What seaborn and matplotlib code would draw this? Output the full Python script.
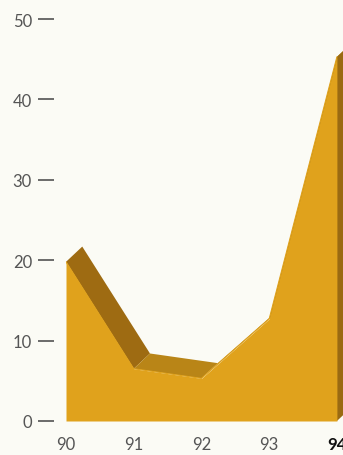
import matplotlib
matplotlib.use('Agg')
from matplotlib import pyplot as plt
import pandas as pd
import seaborn as sns

years = [90, 91, 92, 93, 94]
values = [19.8, 6.5, 5.3, 12.7, 45.3]
year_labels = ['90', '91', '92', '93', '94']
y_ticks = [0, 10, 20, 30, 40, 50]

df = pd.DataFrame({'year': years, 'value': values})

# depth of the fake 3d extrusion (data units)
dx, dy = 0.24, 1.9

front = '#e0a21c'
top_dark = '#9e6b12'
top_mid = '#b98517'
side = '#9a6a12'
bg = '#fbfbf5'

sns.set_theme(style='white')
plt.rcParams['font.family'] = ['Lato', 'DejaVu Sans']

fig = plt.figure(figsize=(3.43, 4.56), dpi=100, facecolor=bg)
ax = fig.add_axes([66 / 343, 34 / 456, 1 - 66 / 343, 1 - 34 / 456])
ax.set_facecolor(bg)

# top faces of the extrusion, one quad per segment
for i in range(len(df) - 1):
    x0, x1 = df['year'][i], df['year'][i + 1]
    y0, y1 = df['value'][i], df['value'][i + 1]
    col = top_dark if y0 - y1 > 5 else top_mid
    ax.fill([x0, x1, x1 + dx, x0 + dx], [y0, y1, y1 + dy, y0 + dy],
            color=col, lw=0, zorder=1)

# side face at the last year
xl, yl = df['year'].iloc[-1], df['value'].iloc[-1]
ax.fill([xl, xl + dx, xl + dx, xl], [0, dy, yl + dy, yl], color=side, lw=0, zorder=1)

# front face
ax.fill_between(df['year'], df['value'], 0, color=front, lw=0, zorder=2)
sns.lineplot(data=df, x='year', y='value', color=front, lw=0.8, ax=ax, zorder=3)

ax.set_xlim(90, 94.09)
ax.set_ylim(0, 52.5)
ax.set_xlabel('')
ax.set_ylabel('')
for s in ax.spines.values():
    s.set_visible(False)
ax.spines['left'].set_position(('outward', 9))

ax.set_yticks(y_ticks)
ax.set_yticklabels([str(t) for t in y_ticks])
ax.tick_params(axis='y', direction='out', length=11.5, width=1.1, color='#444444',
               pad=4, labelsize=12, labelcolor='#555555', left=True)
ax.set_xticks(years)
ax.set_xticklabels(year_labels)
ax.tick_params(axis='x', length=0, pad=11, labelsize=12, labelcolor='#555555')
lab = ax.get_xticklabels()[-1]
lab.set_fontweight('bold')
lab.set_color('#111111')

fig.savefig('out.png', dpi=100, facecolor=bg)
